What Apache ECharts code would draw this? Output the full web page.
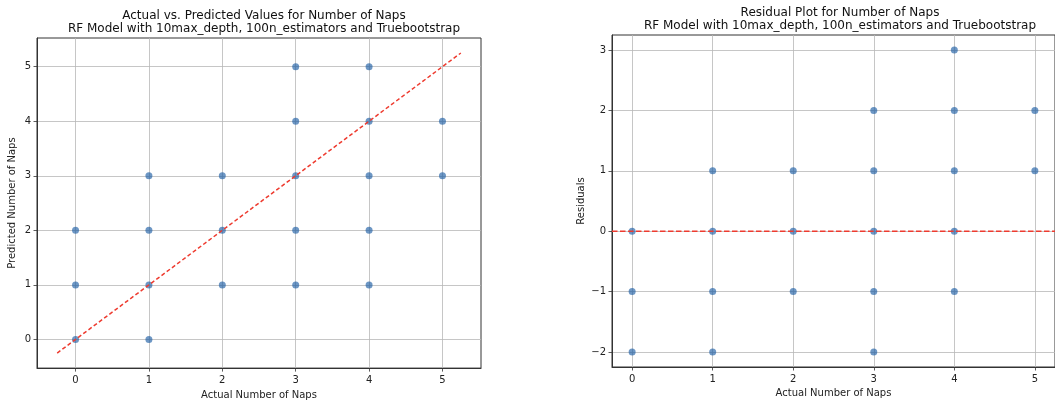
<!DOCTYPE html>
<html>
<head>
<meta charset="utf-8">
<script src="https://cdn.jsdelivr.net/npm/echarts@6/dist/echarts.min.js"></script>
<style>
  html, body { margin: 0; padding: 0; background: #fff; }
  #chart { width: 1055px; height: 405px; }
</style>
</head>
<body>
<div id="chart"></div>
<script>
// actual vs predicted pairs
const actual    = [0, 0, 0, 1, 1, 1, 1, 2, 2, 2, 3, 3, 3, 3, 3, 4, 4, 4, 4, 4, 5, 5]
const predicted = [0, 1, 2, 0, 1, 2, 3, 1, 2, 3, 1, 2, 3, 4, 5, 1, 2, 3, 4, 5, 3, 4]
const residuals = [0, -1, -2, 1, 0, -1, -2, 1, 0, -1, 2, 1, 0, -1, -2, 3, 2, 1, 0, -1, 2, 1]

const xTicks = [0, 1, 2, 3, 4, 5]
const predTicks = [0, 1, 2, 3, 4, 5]
const residTicks = [-2, -1, 0, 1, 2, 3]
const diagLine = [[-0.25, -0.25], [5.25, 5.25]]
const zeroLine = [[-0.25, 0], [5.25, 0]]

const subtitle = 'RF Model with 10max_depth, 100n_estimators and Truebootstrap'
const FONT = 'DejaVu Sans'
const DOT = 'rgba(31,95,165,0.82)'
const RED = '#ee3b2f'

function axis(gridIndex, min, max, ticks, name, gap, isY) {
  return {
    type: 'value', gridIndex, min, max,
    name, nameLocation: 'middle', nameGap: gap,
    nameTextStyle: { fontFamily: FONT, fontSize: 10, color: '#222' },
    axisLine: { show: true, onZero: false, lineStyle: { color: '#333', width: 1 } },
    axisTick: { show: true, length: 3.5, inside: false, customValues: ticks, lineStyle: { color: '#333', width: 0.8 } },
    axisLabel: { customValues: ticks, fontFamily: FONT, fontSize: 10, color: '#222', margin: isY ? 6 : 7,
      formatter: v => String(v).replace('-', '\u2212') },
    splitLine: { show: true, customValues: ticks, lineStyle: { color: '#b8b8b8', width: 0.8 } }
  }
}

const chart = echarts.init(document.getElementById('chart'), null, { renderer: 'canvas' })
chart.setOption({
  animation: false,
  backgroundColor: '#fff',
  title: [
    { text: 'Actual vs. Predicted Values for Number of Naps\n' + subtitle, left: 259, top: 4, textAlign: 'center',
      textStyle: { fontFamily: FONT, fontSize: 12, fontWeight: 'normal', color: '#111', lineHeight: 13.5 } },
    { text: 'Residual Plot for Number of Naps\n' + subtitle, left: 835, top: 1, textAlign: 'center',
      textStyle: { fontFamily: FONT, fontSize: 12, fontWeight: 'normal', color: '#111', lineHeight: 13.5 } }
  ],
  grid: [
    { left: 37, top: 38, width: 444, height: 332, show: true, borderColor: '#333', borderWidth: 1, backgroundColor: 'transparent' },
    { left: 612, top: 35, width: 447, height: 332, show: true, borderColor: '#333', borderWidth: 1, backgroundColor: 'transparent' }
  ],
  xAxis: [
    axis(0, -0.525, 5.525, xTicks, 'Actual Number of Naps', 20, false),
    axis(1, -0.25, 5.25, xTicks, 'Actual Number of Naps', 20, false)
  ],
  yAxis: [
    axis(0, -0.525, 5.525, predTicks, 'Predicted Number of Naps', 20, true),
    axis(1, -2.25, 3.25, residTicks, 'Residuals', 26, true)
  ],
  series: [
    { type: 'scatter', xAxisIndex: 0, yAxisIndex: 0, symbolSize: 7,
      itemStyle: { color: DOT }, data: actual.map((a, i) => [a, predicted[i]]) },
    { type: 'line', xAxisIndex: 0, yAxisIndex: 0, data: diagLine, symbol: 'none', z: 3,
      lineStyle: { color: RED, width: 1.5, type: [4, 2.5] } },
    { type: 'scatter', xAxisIndex: 1, yAxisIndex: 1, symbolSize: 7,
      itemStyle: { color: DOT }, data: actual.map((a, i) => [a, residuals[i]]) },
    { type: 'line', xAxisIndex: 1, yAxisIndex: 1, data: zeroLine, symbol: 'none', z: 3,
      lineStyle: { color: RED, width: 1.5, type: [5.5, 2.5] } }
  ]
})
</script>
</body>
</html>
